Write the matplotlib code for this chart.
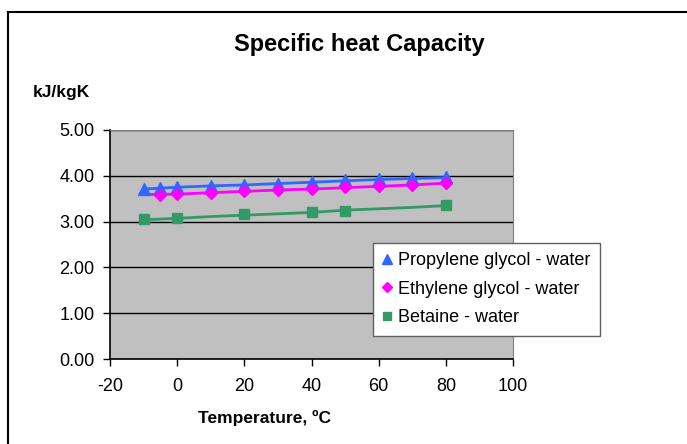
import matplotlib.pyplot as plt
from matplotlib.lines import Line2D

plt.rcParams['font.family'] = ['Liberation Sans', 'DejaVu Sans']
plt.rcParams['axes.unicode_minus'] = False

# continuous curves
temp_line = [-10, 0, 10, 20, 30, 40, 50, 60, 70, 80]
pg_line = [3.71, 3.75, 3.78, 3.80, 3.83, 3.86, 3.89, 3.92, 3.94, 3.96]
eg_line = [3.59, 3.60, 3.63, 3.66, 3.69, 3.71, 3.74, 3.77, 3.80, 3.84]
bt_line = [3.04, 3.07, 3.11, 3.14, 3.17, 3.20, 3.25, 3.28, 3.31, 3.35]

# measured points
pg_t = [-10, -5, 0, 10, 20, 30, 40, 50, 60, 70, 80]
pg_v = [3.72, 3.74, 3.75, 3.78, 3.81, 3.83, 3.86, 3.90, 3.93, 3.95, 3.97]
eg_t = [-5, 0, 10, 20, 30, 40, 50, 60, 70, 80]
eg_v = [3.59, 3.61, 3.63, 3.66, 3.69, 3.72, 3.75, 3.78, 3.81, 3.84]
bt_t = [-10, 0, 20, 40, 50, 80]
bt_v = [3.05, 3.08, 3.16, 3.20, 3.24, 3.36]

xticks = [-20, 0, 20, 40, 60, 80, 100]
yticks = [0, 1, 2, 3, 4, 5]

c_pg = '#3366FF'
c_eg = '#FF00FF'
c_bt = '#339966'

W, H = 687, 444
fig = plt.figure(figsize=(W / 100, H / 100), dpi=100)
ax = fig.add_axes([110 / W, 1 - 359 / H, (513 - 110) / W, (359 - 130) / H])
ax.set_facecolor('#C0C0C0')

ax.plot(temp_line, pg_line, color=c_pg, lw=2, zorder=3)
ax.plot(temp_line, eg_line, color=c_eg, lw=2, zorder=3)
ax.plot(temp_line, bt_line, color=c_bt, lw=2, zorder=3)
ax.plot(pg_t, pg_v, ls='none', marker='^', ms=8, color=c_pg, zorder=4)
ax.plot(eg_t, eg_v, ls='none', marker='D', ms=6, color=c_eg, zorder=4)
ax.plot(bt_t, bt_v, ls='none', marker='s', ms=7, color=c_bt, zorder=4)

ax.set_xlim(-20, 100)
ax.set_ylim(0, 5)
ax.set_xticks(xticks)
ax.set_yticks(yticks)
ax.set_yticklabels([f'{v:.2f}' for v in yticks])
ax.tick_params(labelsize=13, direction='out', length=5, width=1, colors='black')
ax.tick_params(axis='x', pad=9)
ax.tick_params(axis='y', pad=6)
ax.yaxis.grid(True, color='black', lw=1)
ax.set_axisbelow(True)
for s in ['top', 'right']:
    ax.spines[s].set_color('#808080')
for s in ['left', 'bottom']:
    ax.spines[s].set_color('black')
    ax.spines[s].set_linewidth(1.2)

fig.text(359 / W, 1 - 44 / H, 'Specific heat Capacity', ha='center', va='center',
         fontsize=17, fontweight='bold')
fig.text(33 / W, 1 - 92 / H, 'kJ/kgK', ha='left', va='center', fontsize=12.5, fontweight='bold')
fig.text(265 / W, 1 - 418 / H, 'Temperature, ºC', ha='center', va='center',
         fontsize=12.5, fontweight='bold')

# chart border (left and top only visible)
fig.add_artist(Line2D([8 / W, 8 / W], [0, 1 - 12 / H], transform=fig.transFigure, color='black', lw=1.5))
fig.add_artist(Line2D([8 / W, 1], [1 - 12 / H, 1 - 12 / H], transform=fig.transFigure, color='black', lw=1.5))

handles = [
    Line2D([], [], ls='none', marker='^', ms=7, color=c_pg),
    Line2D([], [], ls='none', marker='D', ms=5, color=c_eg),
    Line2D([], [], ls='none', marker='s', ms=6, color=c_bt),
]
labels = ['Propylene glycol - water', 'Ethylene glycol - water', 'Betaine - water']
leg = fig.legend(handles, labels, loc='upper left', bbox_to_anchor=(373 / W, 1 - 243 / H),
                 fontsize=13, frameon=True, fancybox=False, framealpha=1,
                 edgecolor='#606060', handlelength=0.6, handletextpad=0.3,
                 borderpad=0.5, labelspacing=0.65, borderaxespad=0)
leg.get_frame().set_linewidth(1)

fig.savefig('out.png', dpi=100, facecolor='white')
